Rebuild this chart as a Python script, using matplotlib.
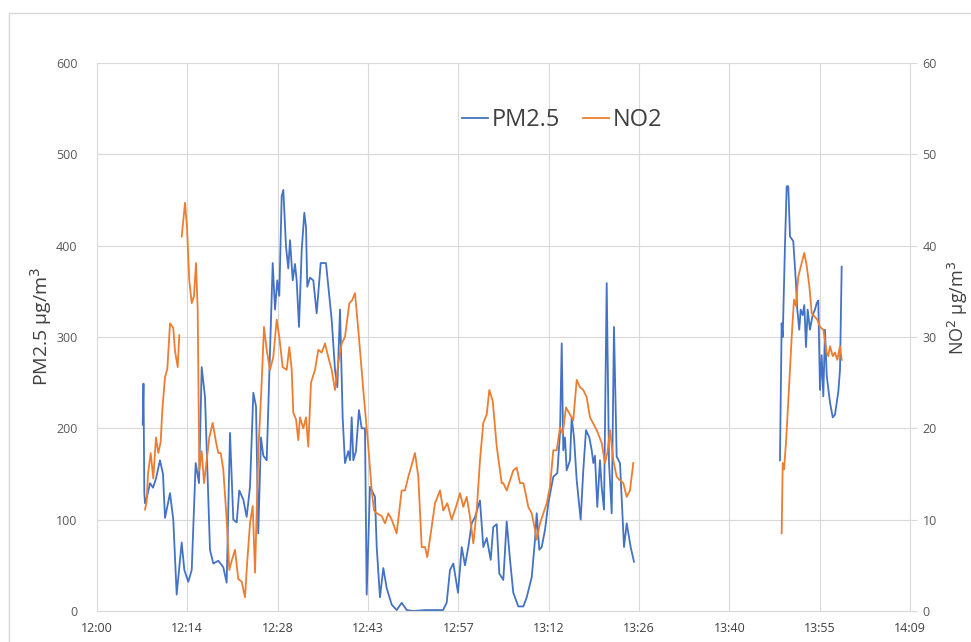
"""Recreates the PM2.5 / NO2 time series chart (two y axes) as out.png."""

import matplotlib.pyplot as plt
import numpy as np
from matplotlib.lines import Line2D
from matplotlib.patches import Rectangle

# minutes after 12:00; None marks a break in the record
PM_T = [7.28, 7.41, 7.54, 7.65, 7.97, 8.45, 8.93, 9.40, 10.04, 10.52, 10.84, 11.64, 12.16, 12.70,
        13.50, 13.92, 14.55, 15.10, 15.73, 16.26, 16.69, 17.22, 17.74, 18.01, 18.54, 19.34, 20.13,
        20.67, 21.20, 21.73, 22.27, 22.68, 23.32, 23.86, 24.39, 24.92, 25.35, 25.71, 26.14, 26.51,
        27.05, 28.01, 28.38, 28.74, 29.06, 29.44, 29.70, 30.13, 30.49, 30.77, 31.20, 31.56, 31.83,
        32.20, 32.63, 33.05, 33.32, 33.52, 33.95, 34.48, 35.02, 35.66, 36.50, 37.03, 37.41, 37.94,
        38.31, 38.74, 39.16, 39.53, 40.06, 40.33, 40.60, 40.86, 41.28, 41.76, 42.19, 42.72, 42.99,
        43.52, 44.31, 44.59, 45.11, 45.64, 46.18, 46.98, 47.77, 48.57, 49.37, 50.42, 52.29, 55.16,
        55.74, 56.27, 56.80, 57.55, 58.14, 58.66, 59.19, 59.73, 60.26, 61.05, 61.58, 62.12, 62.76,
        63.17, 63.72, 64.13, 64.77, 65.31, 65.84, 66.36, 67.16, 67.96, 68.50, 69.30, 69.82, 70.09,
        70.51, 70.89, 71.42, 71.94, 72.74, 73.38, 73.81, 74.08, 74.33, 74.60, 74.87, 75.40, 75.67,
        76.04, 76.47, 77.10, 77.52, 77.95, 78.48, 78.86, 79.12, 79.38, 79.75, 80.18, 80.45, 80.82,
        81.25, 81.62, 82.05, 82.41, 82.84, 83.37, 84.01, 84.44, 85.07, 85.60,
        97.0,
        108.87, 109.14, 109.31, 109.67, 109.94, 110.20, 110.47, 110.99, 111.42, 111.63, 111.95,
        112.17, 112.49, 112.75, 113.02, 113.29, 113.65, 114.08, 114.45, 114.73, 114.98, 115.25,
        115.52, 115.78, 116.05, 116.32, 116.85, 117.28, 117.64, 118.17, 118.44, 118.71]
PM25 = [204, 249, 130, 118, 125, 140, 135, 145, 165, 150, 102, 129, 100, 18,
        75, 45, 32, 45, 162, 140, 267, 234, 125, 67, 52, 55, 48,
        31, 195, 100, 97, 132, 122, 103, 136, 239, 224, 85, 190, 170,
        165, 381, 330, 362, 345, 454, 461, 399, 375, 406, 362, 380, 362,
        311, 395, 436, 420, 355, 365, 362, 326, 381, 381, 345, 319, 264,
        245, 330, 212, 162, 175, 165, 212, 165, 175, 220, 200, 200, 18,
        136, 125, 70, 15, 47, 25, 7, 1, 9, 1, 0, 1, 1,
        9, 45, 52, 20, 70, 50, 70, 96, 103, 121, 70, 80, 56,
        92, 95, 41, 34, 98, 56, 20, 5, 5, 15, 37, 78, 107,
        67, 70, 89, 118, 147, 151, 195, 293, 176, 190, 154, 165, 212,
        190, 143, 100, 154, 198, 190, 176, 162, 170, 114, 165, 136, 111,
        359, 162, 107, 311, 169, 162, 70, 96, 70, 54,
        None,
        165, 315, 300, 400, 465, 465, 410, 405, 359, 330, 308,
        330, 324, 335, 289, 330, 308, 324, 330, 337, 340, 242,
        280, 235, 308, 258, 228, 212, 215, 240, 264, 377]

NO2_T = [7.65, 7.92, 8.13, 8.56, 8.97, 9.40, 9.77, 10.15, 10.41, 10.84, 11.21, 11.64, 12.16, 12.43,
         12.86, 13.12,
         13.3,
         13.50, 14.03, 14.35, 14.71, 15.10, 15.46, 15.78, 16.05, 16.31, 16.69, 17.06, 17.49, 17.90,
         18.44, 18.97, 19.34, 19.72, 20.13, 20.67, 21.09, 21.47, 22.00, 22.52, 23.07, 23.59, 23.96,
         24.39, 24.82, 25.19, 25.71, 26.25, 26.62, 27.05, 27.58, 28.10, 28.65, 29.06, 29.60, 30.24,
         30.65, 31.04, 31.29, 31.72, 32.09, 32.36, 32.89, 33.32, 33.68, 34.11, 34.75, 35.28, 35.82,
         36.35, 36.87, 37.41, 37.94, 38.47, 39.01, 39.53, 40.22, 40.65, 41.13, 41.65, 42.45, 43.25,
         43.79, 44.16, 44.59, 45.38, 45.91, 46.44, 46.98, 47.77, 48.57, 49.10, 49.63, 50.17, 50.69,
         51.22, 51.76, 52.29, 52.65, 53.35, 53.88, 54.68, 55.20, 55.84, 56.54, 57.23, 57.87, 58.39,
         58.93, 59.46, 59.99, 60.53, 61.05, 61.58, 62.12, 62.54, 63.08, 63.72, 64.51, 64.77, 65.31,
         65.84, 66.36, 66.90, 67.43, 67.96, 68.23, 68.75, 69.30, 69.82, 70.09, 70.62, 71.15, 71.69,
         72.21, 72.74, 73.28, 73.81, 74.24, 74.76, 75.40, 75.93, 76.47, 77.00, 77.52, 78.06, 78.59,
         79.12, 79.66, 80.45, 80.98, 81.35, 81.78, 82.31, 82.84, 83.37, 83.90, 84.44, 84.96, 85.49,
         97.0,
         109.14, 109.31, 109.52, 109.83, 110.20, 110.74, 111.11, 111.42, 111.79, 112.33, 112.75,
         113.13, 113.55, 113.93, 114.45, 114.82, 115.25, 115.78, 116.32, 116.57, 116.85, 117.28,
         117.64, 118.01, 118.44, 118.71]
NO2 = [11.1, 12, 15, 17.3, 14.5, 19, 17.3, 18.5, 22, 25.6, 26.5, 31.5, 31, 28.5,
       26.7, 30.2,
       None,
       41, 44.7, 42, 36.2, 33.7, 34.5, 38.1, 33, 15.4, 17.5, 14, 16.5, 19,
       20.6, 18.5, 17.3, 17.3, 15.5, 10, 4.5, 5.5, 6.7, 3.5, 3.2, 1.5, 5.5,
       9.6, 11.5, 4.2, 17.3, 25, 31.1, 28.6, 26.4, 27.8, 31.9, 30, 26.7, 26.4,
       28.9, 26.4, 21.7, 21, 18.7, 21.2, 20, 21.2, 18, 25, 26.4, 28.6, 28.3,
       29.3, 27.8, 26.4, 24.2, 27.2, 29.3, 30, 33.7, 34, 34.8, 30.8, 24.2, 18,
       13.2, 11, 10.7, 10.4, 9.6, 10.7, 10, 8.5, 13.2, 13.2, 14.7, 16, 17.3,
       14.7, 7, 7, 5.9, 9.2, 11.8, 13.2, 11, 11.8, 10, 11.4, 12.9, 11.4,
       12.5, 10.3, 7.4, 11, 16.5, 20.6, 21.5, 24.2, 23, 18, 14, 14, 13.2,
       14.3, 15.4, 15.7, 14, 14, 13.2, 11.4, 10.7, 8.9, 7.8, 9.6, 10.7, 11.8,
       13.6, 17.6, 17.6, 20.1, 19.4, 22.3, 21.5, 20.9, 25.3, 24.5, 24.2, 23.4, 21.2,
       20.5, 19.8, 18.4, 16.2, 17.3, 19.8, 16.5, 14.7, 14.3, 14, 12.5, 13.2, 16.2,
       None,
       8.5, 16.2, 15.5, 18.4, 23, 30, 34.1, 33.4, 36.6, 38.1, 39.2,
       37.8, 35.6, 32.6, 32.2, 31.9, 31.1, 30.8, 28.3, 27.9, 29, 27.9,
       28.3, 27.5, 29, 27.5]

X_TICK_LABELS = ["12:00", "12:14", "12:28", "12:43", "12:57", "13:12", "13:26", "13:40", "13:55", "14:09"]

BLUE = "#4472c4"
ORANGE = "#ed7d31"
GRID = "#d9d9d9"
TICK = "#595959"


def main():
    plt.rcParams["font.family"] = ["Open Sans", "DejaVu Sans"]

    fig = plt.figure(figsize=(9.71, 6.42), dpi=100)
    # chart-area border (runs off the right and bottom edges like the screenshot)
    fig.patches.append(Rectangle((9 / 971, -0.1), 1.2, 1.1 - 13 / 642, transform=fig.transFigure,
                                 fill=False, edgecolor=GRID, linewidth=1.0))

    ax = fig.add_axes([97 / 971, 31 / 642, 813 / 971, 548 / 642])
    ax2 = ax.twinx()

    pm = np.array(PM25, dtype=float)
    no2 = np.array(NO2, dtype=float)
    ax.plot(PM_T, pm, color=BLUE, linewidth=1.3)
    ax2.plot(NO2_T, no2, color=ORANGE, linewidth=1.3)

    # 0.01 day steps, as in the spreadsheet axis
    ticks = np.arange(len(X_TICK_LABELS)) * 14.4
    ax.set_xlim(0, ticks[-1])
    ax.set_xticks(ticks)
    ax.set_xticklabels(X_TICK_LABELS, fontsize=9, color="#404040")
    ax.set_ylim(0, 600)
    ax.set_yticks(range(0, 601, 100))
    ax2.set_ylim(0, 60)
    ax2.set_yticks(range(0, 61, 10))

    ax.grid(True, color=GRID, linewidth=0.8)
    ax.set_axisbelow(True)
    for a in (ax, ax2):
        for s in a.spines.values():
            s.set_visible(False)
    ax.spines["bottom"].set_visible(True)
    ax.spines["bottom"].set_color(GRID)
    ax.spines["left"].set_visible(True)
    ax.spines["left"].set_color(GRID)
    ax2.spines["right"].set_visible(True)
    ax2.spines["right"].set_color(GRID)

    ax.tick_params(axis="x", length=0, pad=8)
    ax.tick_params(axis="y", length=0, labelsize=9, labelcolor=TICK, pad=14)
    ax2.tick_params(axis="y", length=5, color=GRID, labelsize=9, labelcolor=TICK, pad=4)

    ax.set_ylabel("PM2.5 µg/m$^3$", fontsize=14, color="#404040")
    ax.yaxis.set_label_coords(-0.053, 0.52)
    fig.text(946 / 971, 0.52, "NO$^2$ µg/m$^3$", rotation=90, fontsize=13, color="#404040",
             ha="left", va="center")

    handles = [Line2D([], [], color=BLUE, linewidth=1.3), Line2D([], [], color=ORANGE, linewidth=1.3)]
    ax.legend(handles, ["PM2.5", "NO2"], loc="center", bbox_to_anchor=(0.572, 0.896), ncol=2,
              frameon=False, fontsize=17, handlelength=1.1, handletextpad=0.15, columnspacing=1.0,
              labelcolor="#404040")

    fig.savefig("out.png", dpi=100)
    plt.close(fig)


if __name__ == "__main__":
    main()
